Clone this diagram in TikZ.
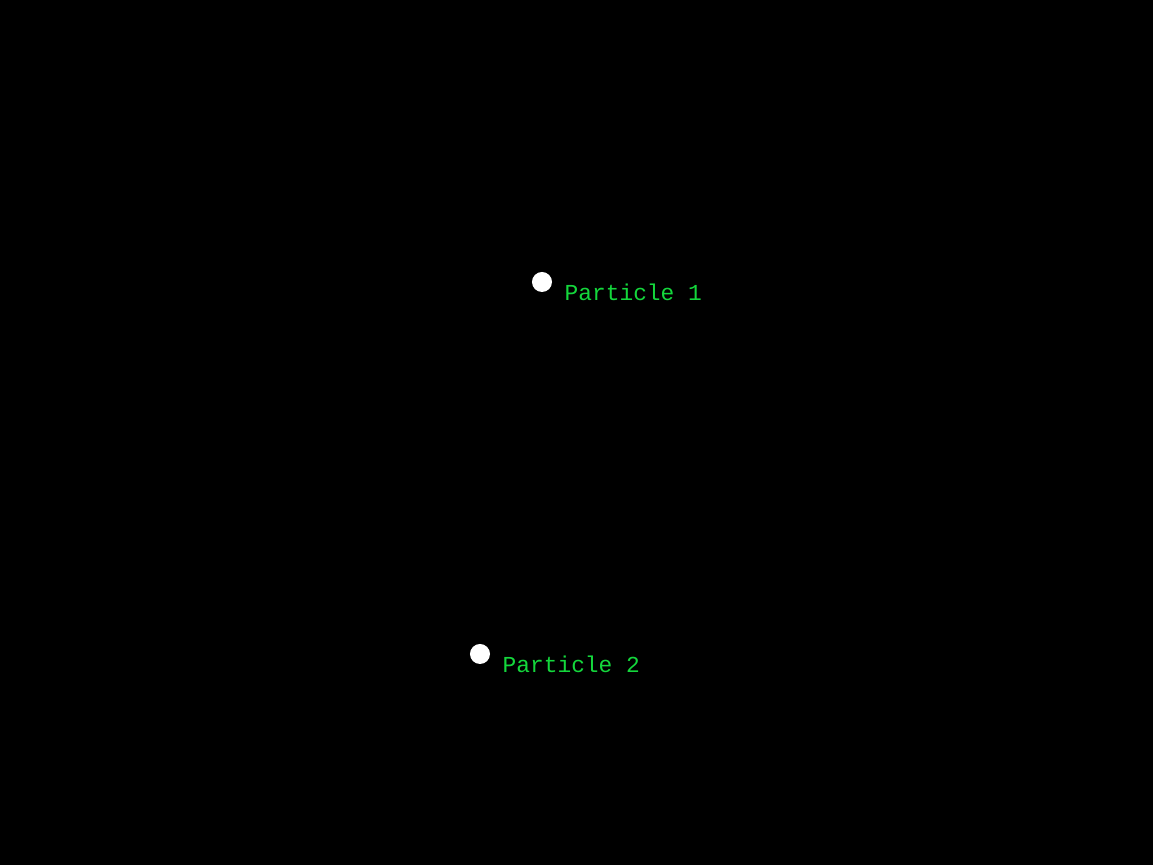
\documentclass[tikz,border=0pt]{standalone}
\usepackage{fontspec}
\setmonofont{Liberation Mono}
\usetikzlibrary{positioning}
\definecolor{labelgreen}{RGB}{20,215,60}
\begin{document}
\begin{tikzpicture}[x=0.01cm,y=-0.01cm,
  particle/.style={circle,fill=white,inner sep=0pt,minimum size=0.2cm},
  plabel/.style={text=labelgreen,font=\ttfamily\fontsize{6.5}{7}\selectfont,inner sep=0pt,anchor=base west}]
\fill[black] (0,0) rectangle (1153,865);
\useasboundingbox (0,0) rectangle (1153,865);
\node[particle] (p1) at (542,282) {};
\node[particle] (p2) at (480,654) {};
\node[plabel] (l1) at (564,301) {Particle 1};
\node[plabel] (l2) at (502,673) {Particle 2};
\end{tikzpicture}
\end{document}
